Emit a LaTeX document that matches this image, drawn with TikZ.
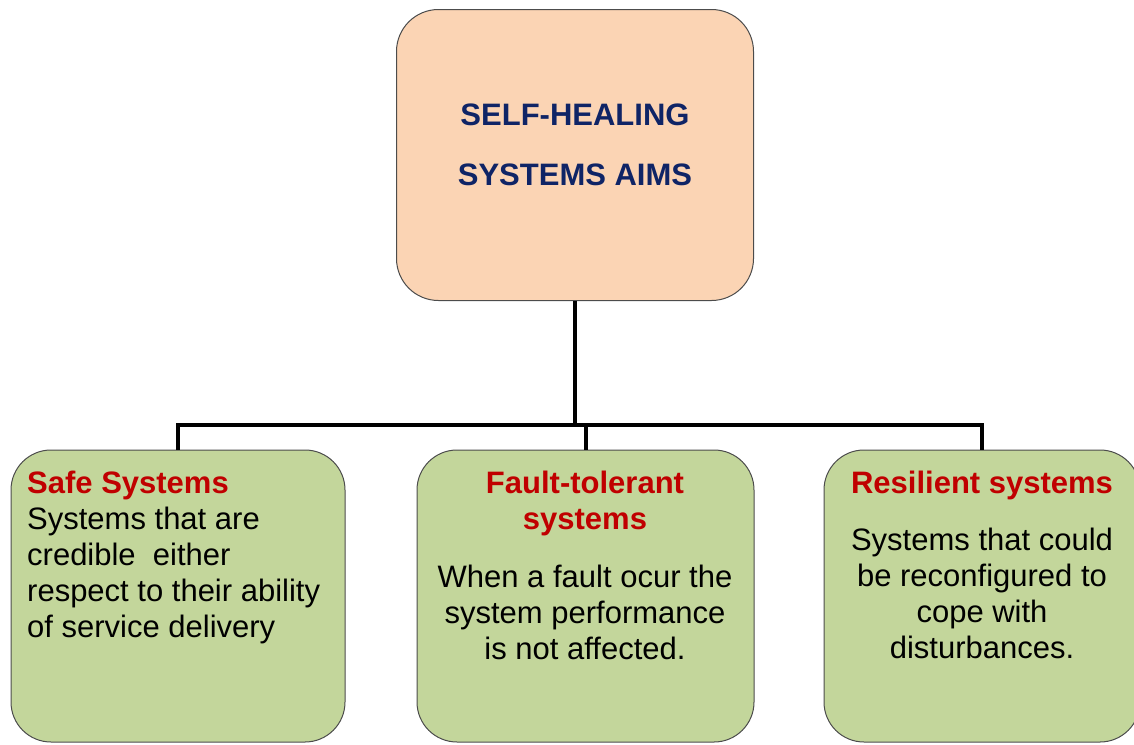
\documentclass[tikz,border=0pt]{standalone}
\usepackage{fontspec}
\setmainfont{Liberation Sans}
\usepackage{xcolor}
\usepackage{tikz}
\usetikzlibrary{positioning,calc}
\definecolor{aimfill}{HTML}{FBD4B4}
\definecolor{goalfill}{HTML}{C3D69B}
\definecolor{aimtext}{HTML}{0F2466}
\definecolor{headred}{HTML}{C00000}
\tikzset{
  px/.style={x=1pt, y=-1pt},
  h box/.style={draw=black!70, line width=1pt, rectangle, inner sep=0pt},
  h aim/.style={h box, fill=aimfill, rounded corners=42pt, minimum width=357pt, minimum height=291pt},
  h goal/.style={h box, fill=goalfill, rounded corners=40pt, minimum height=292pt},
  h title/.style={font=\fontsize{31}{60}\selectfont\bfseries, text=aimtext, align=center, inner sep=0pt, anchor=base},
  h head/.style={font=\fontsize{31}{36}\selectfont\bfseries, text=headred, align=center, inner sep=0pt, anchor=base},
  h body/.style={font=\fontsize{31}{36}\selectfont, text=black, align=center, inner sep=0pt, anchor=base},
  h link/.style={line width=4pt, black},
}
\begin{document}
\begin{tikzpicture}[px]
\useasboundingbox (0,0) rectangle (1134,744);
\clip (0,0) rectangle (1134,744);
% ---- top aim ----
\node[h aim] (aim) at (575,155) {};
\node[h title] (aimtxt) at (575,185) {SELF-HEALING\\SYSTEMS AIMS};
% ---- goals ----
\node[h goal, minimum width=334pt] (safe) at (178,596) {};
\node[h goal, minimum width=337pt] (fault) at (585.5,596) {};
\node[h goal, minimum width=316pt] (resil) at (982,596) {};
\node[h body, align=left, anchor=base west] (safetxt) at (27,637)
  {{\color{headred}\bfseries Safe Systems}\\Systems that are\\credible~ either\\respect to their ability\\of service delivery};
\node[h head] (faulthd) at (585,529) {Fault-tolerant\\systems};
\node[h body] (faulttxt) at (585,659) {When a fault ocur the\\system performance\\is not affected.};
\node[h head] (resilhd) at (982,493) {Resilient systems};
\node[h body] (resiltxt) at (982,658) {Systems that could\\be reconfigured to\\cope with\\disturbances.};
% ---- tree lines ----
\coordinate (bus) at (575,425);
\draw[h link] (aim.south) -- (bus);
\draw[h link] (safe.north) |- (bus) -| (resil.north);
\draw[h link] (fault.north) -- (fault.north |- bus);
\end{tikzpicture}
\end{document}
